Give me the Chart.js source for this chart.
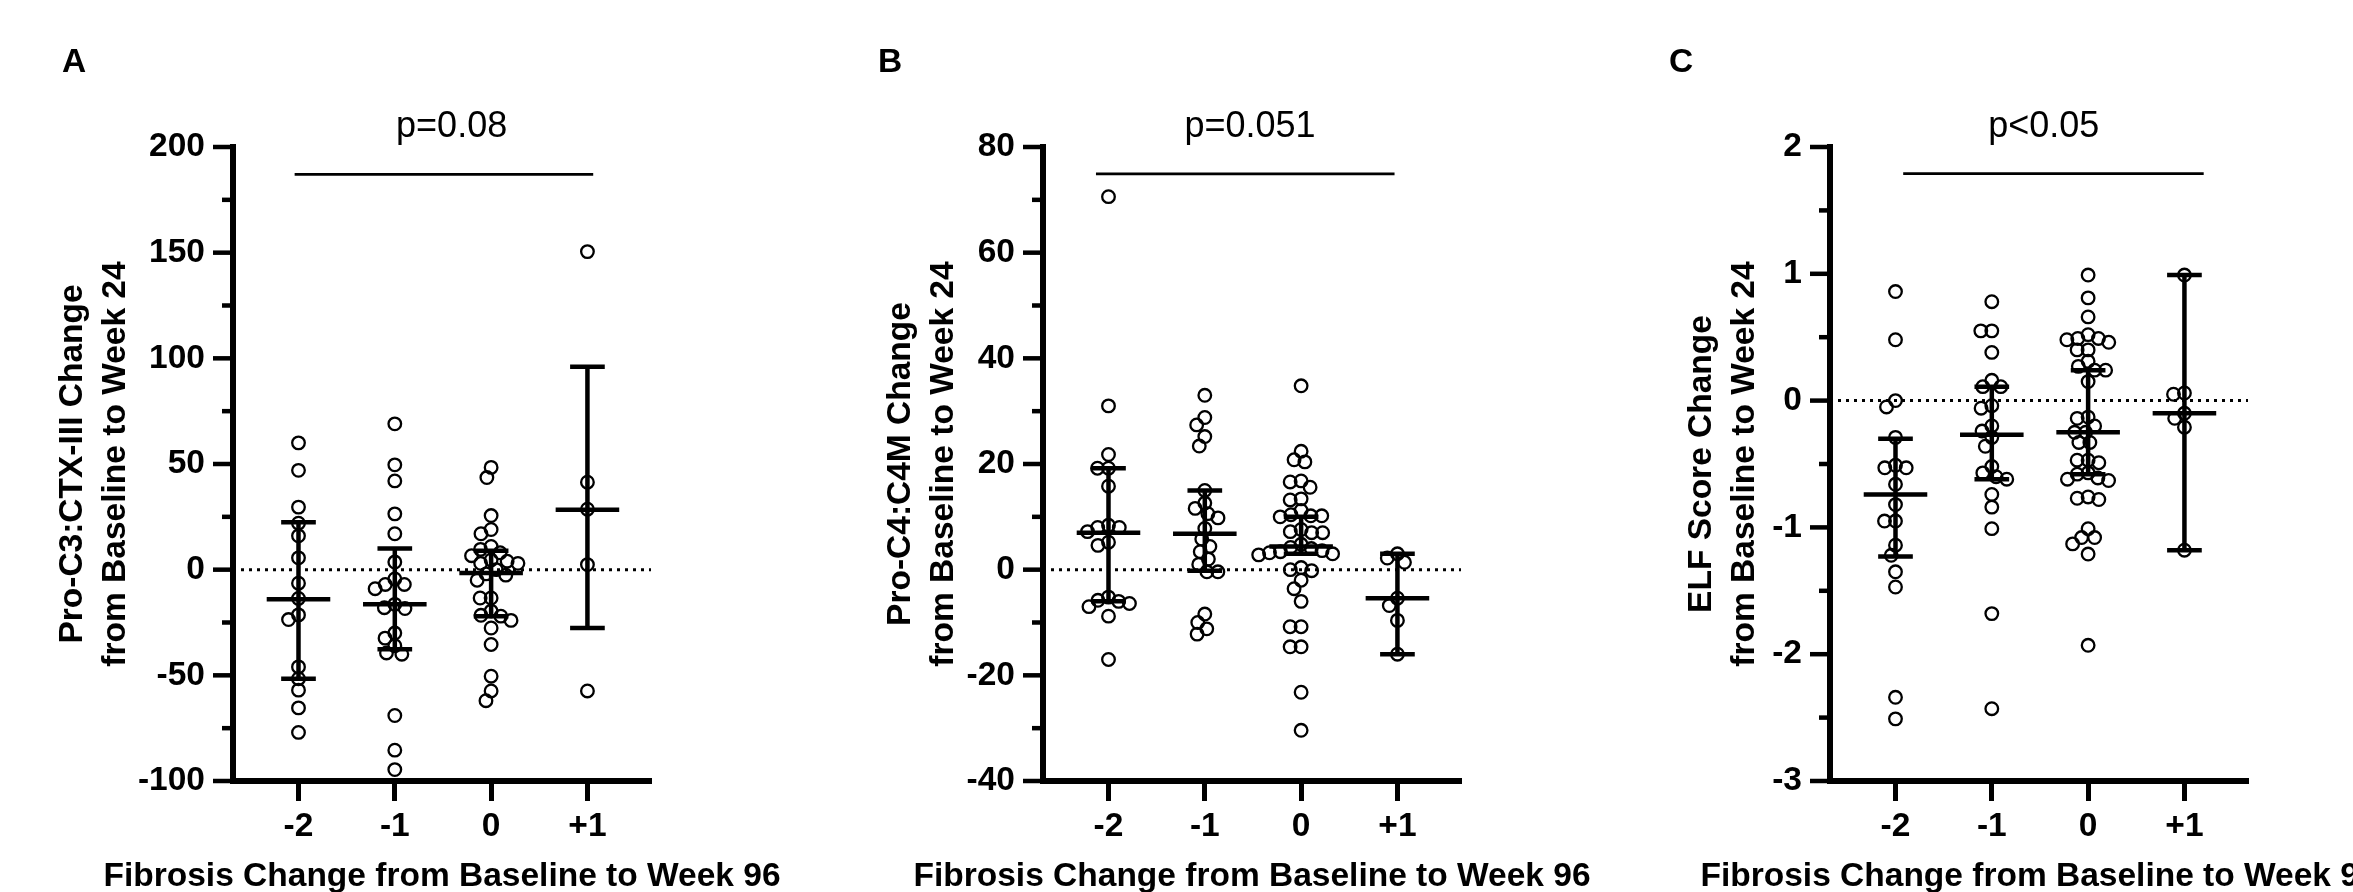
<!DOCTYPE html>
<html>
<head>
<meta charset="utf-8">
<title>Biomarker change by fibrosis change</title>
<script src="https://cdn.jsdelivr.net/npm/chart.js@4.4.1/dist/chart.umd.min.js"></script>
<style>
  html, body { margin: 0; padding: 0; background: #fff; overflow: hidden; width: 2353px; height: 892px; }
  canvas { position: absolute; top: 0; }
</style>
</head>
<body>
<canvas id="chartA" width="800" height="892" style="left:0px;width:800px;height:892px"></canvas>
<canvas id="chartB" width="800" height="892" style="left:800px;width:800px;height:892px"></canvas>
<canvas id="chartC" width="760" height="892" style="left:1600px;width:760px;height:892px"></canvas>
<script>
/* ============================================================
   Fibrosis change vs. biomarker change – three scatter dot plots
   ============================================================ */

const fibrosisCats = ['-2', '-1', '0', '+1'];
const xTitle = 'Fibrosis Change from Baseline to Week 96';

// ── Panel A: Pro-C3:CTX-III ──
const proC3Change = [
  [60, 47, 29.6, 22, 16, 5.6, -6.4, -13.6, -21.4, -23.6, -46, -51.6, -57, -65.4, -77],
  [69, 49.6, 42, 26.4, 17, 3.6, -4.4, -7, -7, -9, -16.4, -18.4, -18, -30, -32.4, -36, -40, -39.4, -69, -85.4, -94.6],
  [48.4, 43.6, 25.6, 19, 17, 11, 9.6, 8, 6.6, 4.6, 4, 3, 3, 0, -2, -2.6, -5, -13.4, -13.4, -19.6, -22, -21.6, -24, -27.6, -35.4, -50.4, -57.4, -62],
  [150.5, 41.4, 28.6, 2.4, -57.4]
];
const proC3Median = [-14, -16.4, -1.6, 28.4];
const proC3Q1 = [-51.6, -37.6, -22, -27.6];
const proC3Q3 = [22.4, 10, 9, 96];

// ── Panel B: Pro-C4:C4M ──
const proC4Change = [
  [70.6, 31, 21.8, 19.2, 19.2, 15.8, 8.4, 8, 8, 7.2, 5.2, 4.6, -5.2, -5.8, -6, -6.4, -7, -8.8, -17],
  [33, 28.8, 27.4, 25.2, 23.4, 15, 12.6, 11.6, 10.6, 9.8, 7.8, 5.8, 4.4, 3.4, 2, 1, -0.4, -0.4, -8.4, -10, -11.2, -12.2],
  [34.8, 22.4, 20.8, 20.4, 16.8, 16.6, 15.6, 13.4, 13.2, 11.2, 10.4, 10.2, 10.2, 10, 7.6, 7.2, 7, 7, 4.8, 4.2, 4, 3.6, 3.4, 3.2, 3, 2.8, 0.4, 0, -0.2, -2, -3.6, -6, -10.8, -10.8, -14.6, -14.6, -23.2, -30.4],
  [3, 2.2, 1.4, -5.4, -6.8, -9.6, -16]
];
const proC4Median = [7, 6.8, 4.4, -5.4];
const proC4Q1 = [-6, -0.2, 3, -16];
const proC4Q3 = [19.2, 15, 10, 3];

// ── Panel C: ELF score ──
const elfChange = [
  [0.86, 0.48, 0, -0.05, -0.29, -0.51, -0.53, -0.53, -0.66, -0.82, -0.95, -0.95, -1.14, -1.22, -1.35, -1.47, -2.34, -2.51],
  [0.78, 0.55, 0.55, 0.38, 0.16, 0.11, 0.11, -0.04, -0.06, -0.2, -0.24, -0.29, -0.36, -0.52, -0.57, -0.6, -0.62, -0.74, -0.84, -1.01, -1.68, -2.43],
  [0.99, 0.81, 0.66, 0.52, 0.49, 0.49, 0.48, 0.46, 0.4, 0.4, 0.31, 0.27, 0.24, 0.24, 0.15, -0.13, -0.14, -0.2, -0.25, -0.25, -0.33, -0.33, -0.47, -0.47, -0.49, -0.57, -0.58, -0.61, -0.62, -0.63, -0.76, -0.77, -0.78, -1.01, -1.08, -1.08, -1.13, -1.21, -1.93],
  [0.99, 0.06, 0.05, -0.1, -0.14, -0.21, -1.18]
];
const elfMedian = [-0.74, -0.27, -0.25, -0.1];
const elfQ1 = [-1.23, -0.62, -0.58, -1.18];
const elfQ3 = [-0.3, 0.11, 0.24, 0.99];

const pValues = ['p=0.08', 'p=0.051', 'p<0.05'];

// ── Panel setup (layout + styling) ──
const FONT = '"Liberation Sans", Arial, Helvetica, sans-serif';
const X_MIN = -0.68, X_MAX = 3.66;

const panels = [
  { id: 'chartA', letter: 'A', letterX: 62, values: proC3Change, median: proC3Median, q1: proC3Q1, q3: proC3Q3,
    yTitle: ['Pro-C3:CTX-III Change', 'from Baseline to Week 24'],
    yMin: -100, yMax: 200, yStep: 25, yMajor: 50,
    pText: pValues[0], pLineY: 187, pFrom: -0.04, pTo: 3.06, pTextX: 1.59,
    padLeft: 51, padRight: 149, yWidth: 182 },
  { id: 'chartB', letter: 'B', letterX: 78, values: proC4Change, median: proC4Median, q1: proC4Q1, q3: proC4Q3,
    yTitle: ['Pro-C4:C4M Change', 'from Baseline to Week 24'],
    yMin: -40, yMax: 80, yStep: 10, yMajor: 20,
    pText: pValues[1], pLineY: 74.9, pFrom: -0.13, pTo: 2.97, pTextX: 1.47,
    padLeft: 79, padRight: 139, yWidth: 164 },
  { id: 'chartC', letter: 'C', letterX: 69, values: elfChange, median: elfMedian, q1: elfQ1, q3: elfQ3,
    yTitle: ['ELF Score Change', 'from Baseline to Week 24'],
    yMin: -3, yMax: 2, yStep: 0.5, yMajor: 1,
    pText: pValues[2], pLineY: 1.79, pFrom: 0.08, pTo: 3.2, pTextX: 1.54,
    padLeft: 80, padRight: 112, yWidth: 150 }
];

function isMajor(v, major) {
  const r = v / major;
  return Math.abs(r - Math.round(r)) < 1e-6;
}

// ── Decorations: minor/major y ticks, panel letter, p-value bar, x title ──
const panelDecor = {
  id: 'panelDecor',
  afterDraw(chart, args, opts) {
    const { ctx, chartArea: area, scales: { x, y } } = chart;
    ctx.save();
    ctx.strokeStyle = '#000';
    ctx.fillStyle = '#000';
    ctx.lineCap = 'butt';

    ctx.lineWidth = 4.5;
    for (let v = opts.yMin; v <= opts.yMax + 1e-9; v += opts.yStep) {
      const py = y.getPixelForValue(v);
      const len = isMajor(v, opts.yMajor) ? 20 : 11;
      ctx.beginPath();
      ctx.moveTo(area.left - len, py);
      ctx.lineTo(area.left, py);
      ctx.stroke();
    }

    ctx.font = 'bold 33.5px ' + FONT;
    ctx.textAlign = 'left';
    ctx.textBaseline = 'alphabetic';
    ctx.fillText(opts.letter, opts.letterX, 72);

    const pY = y.getPixelForValue(opts.pLineY);
    ctx.lineWidth = 2.7;
    ctx.beginPath();
    ctx.moveTo(x.getPixelForValue(opts.pFrom), pY);
    ctx.lineTo(x.getPixelForValue(opts.pTo), pY);
    ctx.stroke();

    ctx.font = '36px ' + FONT;
    ctx.textAlign = 'center';
    ctx.fillText(opts.pText, x.getPixelForValue(opts.pTextX), area.top - 10);

    ctx.font = 'bold 33.5px ' + FONT;
    ctx.fillText(xTitle, (area.left + area.right) / 2, area.bottom + 105);
    ctx.restore();
  }
};

// ── Beeswarm-style horizontal spread (pixel space) ──
function swarmOffsets(yPix, diam) {
  const order = yPix.map((_, i) => i).sort((a, b) => yPix[a] - yPix[b]);
  const placed = [];
  const offs = [];
  order.forEach(k => {
    const y = yPix[k];
    const near = placed.filter(p => Math.abs(p.y - y) < diam);
    const cands = [0];
    near.forEach(p => {
      const dx = Math.sqrt(diam * diam - (p.y - y) ** 2);
      cands.push(p.x - dx, p.x + dx);
    });
    const free = cands.filter(c => near.every(p => (p.x - c) ** 2 + (p.y - y) ** 2 >= diam * diam - 0.5));
    const left = near.filter(p => p.x < 0).length;
    const right = near.filter(p => p.x > 0).length;
    free.sort((a, b) => (Math.abs(a) - Math.abs(b)) || (left <= right ? a - b : b - a));
    const x = free[0];
    placed.push({ x, y });
    offs[k] = x;
  });
  return offs;
}

function summaryLines(p) {
  const med = [], bars = [];
  fibrosisCats.forEach((c, i) => {
    med.push({ x: i - 0.33, y: p.median[i] }, { x: i + 0.33, y: p.median[i] }, { x: i, y: null });
    bars.push({ x: i, y: p.q1[i] }, { x: i, y: p.q3[i] }, { x: i, y: null });
    bars.push({ x: i - 0.18, y: p.q3[i] }, { x: i + 0.18, y: p.q3[i] }, { x: i, y: null });
    bars.push({ x: i - 0.18, y: p.q1[i] }, { x: i + 0.18, y: p.q1[i] }, { x: i, y: null });
  });
  return { med, bars };
}

function buildPanel(p) {
  const { med, bars } = summaryLines(p);
  const rawPoints = [];
  p.values.forEach((vals, gi) => vals.forEach(v => rawPoints.push({ x: gi, y: v })));

  const lineStyle = {
    type: 'line', borderColor: '#000', borderWidth: 4.5, pointRadius: 0,
    spanGaps: false, tension: 0, fill: false, borderCapStyle: 'butt', clip: false
  };

  const chart = new Chart(document.getElementById(p.id), {
    type: 'scatter',
    data: {
      datasets: [
        { ...lineStyle, label: 'Median', data: med },
        { ...lineStyle, label: 'IQR', data: bars },
        {
          type: 'scatter', label: 'Change', data: rawPoints,
          pointRadius: 6.3, pointBorderWidth: 2.3, pointBorderColor: '#000',
          pointBackgroundColor: 'rgba(0,0,0,0)', clip: false
        },
        {
          type: 'line', label: 'zero', data: [{ x: X_MIN, y: 0 }, { x: X_MAX, y: 0 }],
          borderColor: '#000', borderWidth: 3, borderDash: [3, 5], pointRadius: 0, fill: false
        }
      ]
    },
    options: {
      responsive: false,
      animation: false,
      events: [],
      layout: { padding: { left: p.padLeft, right: p.padRight, top: 147, bottom: 0 } },
      plugins: {
        legend: { display: false },
        tooltip: { enabled: false },
        panelDecor: p
      },
      scales: {
        x: {
          type: 'linear', position: 'bottom', min: X_MIN, max: X_MAX,
          afterBuildTicks: s => { s.ticks = fibrosisCats.map((c, i) => ({ value: i })); },
          afterFit: s => { s.height = 111; },
          ticks: {
            callback: (v, i) => fibrosisCats[i],
            autoSkip: false, maxRotation: 0, padding: 6, color: '#000',
            font: { family: FONT, size: 33.5, weight: 'bold' }
          },
          grid: { display: true, drawOnChartArea: false, drawTicks: true, tickLength: 20, tickWidth: 5, tickColor: '#000' },
          border: { display: true, width: 6, color: '#000' }
        },
        y: {
          type: 'linear', position: 'left', min: p.yMin, max: p.yMax,
          afterBuildTicks: s => {
            const t = [];
            for (let v = p.yMin; v <= p.yMax + 1e-9; v += p.yStep) t.push({ value: v });
            s.ticks = t;
          },
          afterFit: s => { s.width = p.yWidth; },
          ticks: {
            callback: v => (isMajor(v, p.yMajor) ? String(v) : ''),
            autoSkip: false, padding: 8, color: '#000',
            font: { family: FONT, size: 33.5, weight: 'bold' }
          },
          grid: { display: true, drawOnChartArea: false, drawTicks: true, tickLength: 20, tickColor: 'rgba(0,0,0,0)' },
          border: { display: true, width: 6, color: '#000' },
          title: {
            display: true, text: p.yTitle, color: '#000', padding: 0,
            font: { family: FONT, size: 33.5, weight: 'bold', lineHeight: 1.28 }
          }
        }
      }
    },
    plugins: [panelDecor]
  });

  // spread points sideways now that the scales are known
  const xs = chart.scales.x, ys = chart.scales.y;
  const pxPerUnit = xs.getPixelForValue(1) - xs.getPixelForValue(0);
  const pts = [];
  p.values.forEach((vals, gi) => {
    const offs = swarmOffsets(vals.map(v => ys.getPixelForValue(v)), 11);
    vals.forEach((v, k) => pts.push({ x: gi + offs[k] / pxPerUnit, y: v }));
  });
  chart.data.datasets[2].data = pts;
  chart.update('none');
  return chart;
}

panels.forEach(buildPanel);
</script>
</body>
</html>
